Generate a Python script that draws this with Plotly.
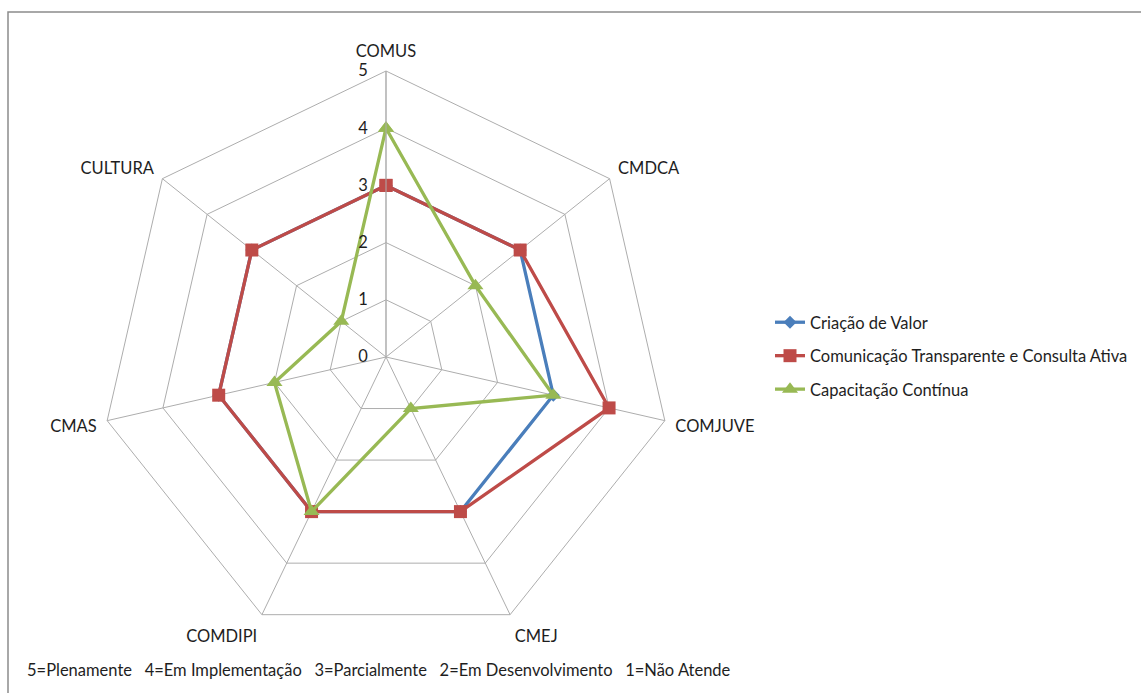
import plotly.graph_objects as go

# Councils evaluated and scores per dimension (0-5 scale)
councils = ["COMUS", "CMDCA", "COMJUVE", "CMEJ", "COMDIPI", "CMAS", "CULTURA"]
criacao_valor = [3, 3, 3, 3, 3, 3, 3]
comunicacao = [3, 3, 4, 3, 3, 3, 3]
capacitacao = [4, 2, 3, 1, 3, 2, 1]
radial_ticks = [0, 1, 2, 3, 4, 5]
scale_note = ("5=Plenamente   4=Em Implementação   3=Parcialmente   "
              "2=Em Desenvolvimento   1=Não Atende")

W, H = 1141, 693
FONT = "Lato"
TEXT = "#1E1E1E"
FS = 16.5

series = [
    ("Criação de Valor", criacao_valor, "#4A7EBB", "diamond", 10),
    ("Comunicação Transparente e Consulta Ativa", comunicacao, "#BE4B48", "square", 13),
    ("Capacitação Contínua", capacitacao, "#98B954", "triangle-up", 14),
]

fig = go.Figure()
for i, (name, vals, color, symbol, msize) in enumerate(series):
    fig.add_trace(go.Scatterpolar(
        r=vals + vals[:1],
        theta=councils + councils[:1],
        name=name,
        legendgroup=f"g{i}",
        mode="lines+markers",
        line=dict(color=color, width=3.3),
        marker=dict(symbol=symbol, size=msize, color=color, line=dict(width=0)),
    ))

# Polar area: centre at (386, 357) px, outer radius ~286 px
cx, cy, R = 386, 357, 286
fig.update_layout(
    width=W, height=H,
    margin=dict(l=0, r=0, t=0, b=0),
    paper_bgcolor="white",
    plot_bgcolor="white",
    font=dict(family=FONT, size=FS, color=TEXT),
    polar=dict(
        domain=dict(x=[(cx - R) / W, (cx + R) / W],
                    y=[(H - cy - R) / H, (H - cy + R) / H]),
        bgcolor="white",
        gridshape="linear",
        angularaxis=dict(
            rotation=90, direction="clockwise",
            categoryorder="array", categoryarray=councils,
            showline=True, linecolor="#ADADAD", linewidth=1,
            gridcolor="#ADADAD", gridwidth=1,
            ticks="outside", ticklen=7, tickcolor="rgba(0,0,0,0)",
            tickfont=dict(family=FONT, size=FS, color=TEXT),
        ),
        radialaxis=dict(
            range=[0, 5], tickvals=radial_ticks,
            ticktext=[str(t) for t in radial_ticks],
            angle=90, side="counterclockwise", tickangle=90,
            showline=True, linecolor="#ADADAD", linewidth=1,
            gridcolor="#ADADAD", gridwidth=1,
            ticks="outside", ticklen=12, tickcolor="rgba(0,0,0,0)",
            tickfont=dict(family=FONT, size=FS, color=TEXT),
        ),
    ),
    legend=dict(
        x=770 / W, y=1 - 305 / H, xanchor="left", yanchor="top",
        font=dict(family=FONT, size=FS, color=TEXT),
        tracegroupgap=9, itemwidth=30,
        bgcolor="rgba(0,0,0,0)",
    ),
    shapes=[dict(
        type="rect", xref="paper", yref="paper",
        x0=8 / W, x1=1.02, y0=-0.02, y1=1 - 12 / H,
        line=dict(color="#8C8C8C", width=1.5), fillcolor="rgba(0,0,0,0)",
    )],
    annotations=[dict(
        text=scale_note, xref="paper", yref="paper",
        x=25 / W, y=1 - 670 / H, xanchor="left", yanchor="middle",
        showarrow=False, font=dict(family=FONT, size=FS, color=TEXT),
    )],
)

fig.write_html("out.html")
